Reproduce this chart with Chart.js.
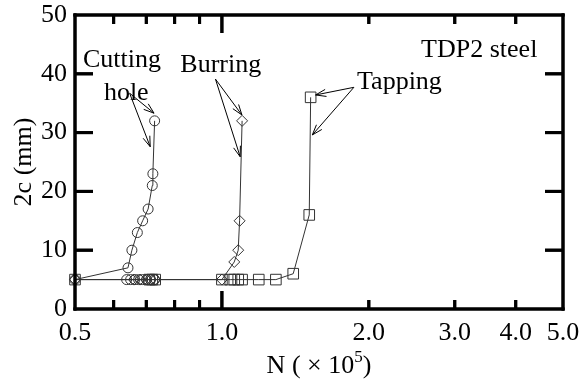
<!DOCTYPE html>
<html lang="en">
<head>
    <meta charset="UTF-8">
    <title>2c vs N - TDP2 steel</title>
    <script src="https://cdn.jsdelivr.net/npm/chart.js"></script>
    <style>
        html, body { margin: 0; padding: 0; background: #fff; }
        .chart-box { position: relative; width: 585px; height: 380px; }
    </style>
</head>
<body>
    <div class="chart-box">
        <canvas id="crackChart"></canvas>
    </div>

    <script>
        // values: N in 1e5 cycles, 2c in mm
        const cutX = [0.5, 0.642, 0.654, 0.671, 0.688, 0.706, 0.72, 0.722, 0.728];
        const cutY = [5, 7, 10, 13, 15, 17, 21, 23, 32];
        // cutting-hole points still at the notch size (no line)
        const cutFlatX = [0.638, 0.65, 0.663, 0.675, 0.688, 0.701, 0.714, 0.728];
        const cutFlatY = [5, 5, 5, 5, 5, 5, 5, 5];
        const burX = [0.5, 0.66, 0.68, 0.70, 0.715, 0.73, 1.0, 1.06, 1.08, 1.087, 1.1];
        const burY = [5, 5, 5, 5, 5, 5, 5, 8, 10, 15, 32];
        const tapX = [0.5, 0.71, 0.72, 0.73, 1.0, 1.04, 1.06, 1.08, 1.1, 1.19, 1.29, 1.4, 1.51, 1.52];
        const tapY = [5, 5, 5, 5, 5, 5, 5, 5, 5, 5, 5, 6, 16, 36];

        const xTicks = [0.5, 0.6, 0.7, 0.8, 0.9, 1, 2, 3, 4, 5];
        const xLabels = ['0.5', '', '', '', '', '1.0', '2.0', '3.0', '4.0', '5.0'];
        const yTicks = [0, 10, 20, 30, 40, 50];

        const serif = '"Liberation Serif", "DejaVu Serif", serif';
        const ink = '#333';

        // text labels and arrows, in data coordinates
        const notes = [
            { text: 'Cutting', x: 0.519, y: 41.2 },
            { text: 'hole', x: 0.573, y: 35.5 },
            { text: 'Burring', x: 0.822, y: 40.3 },
            { text: 'Tapping', x: 1.892, y: 37.4 },
            { text: 'TDP2 steel', x: 2.56, y: 42.9 }
        ];
        const arrows = [
            [0.647, 36.7, 0.726, 33.3], [0.647, 36.7, 0.713, 27.6],
            [0.970, 39.1, 1.099, 33.0], [0.970, 39.1, 1.090, 25.9],
            [1.864, 37.7, 1.556, 36.4], [1.864, 37.7, 1.532, 29.6]
        ];

        function drawArrow(g, x0, y0, x1, y1) {
            const a = Math.atan2(y1 - y0, x1 - x0), h = 11, w = 0.33;
            g.moveTo(x0, y0);
            g.lineTo(x1, y1);
            g.moveTo(x1 - h * Math.cos(a - w), y1 - h * Math.sin(a - w));
            g.lineTo(x1, y1);
            g.lineTo(x1 - h * Math.cos(a + w), y1 - h * Math.sin(a + w));
        }

        // solid bar used for the frame and the tick marks
        function bar(g, x0, y0, x1, y1) {
            const l = Math.min(x0, x1), t = Math.min(y0, y1);
            const w = Math.abs(x1 - x0), h = Math.abs(y1 - y0);
            g.fillRect(l, t, w, h);
            g.beginPath();
            g.moveTo(l + 0.01, t + 0.01);
            g.lineTo(l + w, t + 0.01);
            g.lineTo(l + w, t + h);
            g.lineTo(l + 0.01, t + h);
            g.closePath();
            g.fill();
        }

        const framePlugin = {
            id: 'frame',
            afterDraw(chart) {
                const g = chart.ctx;
                const a = chart.chartArea;
                const x = chart.scales.x, y = chart.scales.y;
                const L = Math.round(a.left), R = Math.round(a.right);
                const T = Math.round(a.top), B = Math.round(a.bottom);
                g.save();
                g.fillStyle = '#000';
                bar(g, L - 1.5, T - 1.5, L + 1.5, B + 1.5);
                bar(g, R - 1.5, T - 1.5, R + 1.5, B + 1.5);
                bar(g, L - 1.5, T - 1.5, R + 1.5, T + 1.5);
                bar(g, L - 1.5, B - 1.5, R + 1.5, B + 1.5);
                xTicks.slice(1, -1).forEach(v => {
                    const px = x.getPixelForValue(v);
                    const len = v === 1 ? 18 : 9;
                    bar(g, px - 1.5, B, px + 1.5, B - len);
                    bar(g, px - 1.5, T, px + 1.5, T + len);
                });
                yTicks.slice(1, -1).forEach(v => {
                    const py = y.getPixelForValue(v);
                    bar(g, L, py - 1.5, L + 18, py + 1.5);
                    bar(g, R - 18, py - 1.5, R, py + 1.5);
                });

                g.strokeStyle = '#000';
                g.lineWidth = 1;
                g.beginPath();
                arrows.forEach(r => drawArrow(g, x.getPixelForValue(r[0]), y.getPixelForValue(r[1]),
                    x.getPixelForValue(r[2]), y.getPixelForValue(r[3])));
                g.stroke();

                g.font = '26px ' + serif;
                g.textBaseline = 'alphabetic';
                g.textAlign = 'left';
                notes.forEach(n => g.fillText(n.text, x.getPixelForValue(n.x), y.getPixelForValue(n.y)));

                // x title with superscript exponent
                const cx = (a.left + a.right) / 2;
                const main = 'N ( \u00d7 10', sup = '5', end = ')';
                const w1 = g.measureText(main).width;
                g.font = '17px ' + serif;
                const w2 = g.measureText(sup).width;
                g.font = '26px ' + serif;
                const w3 = g.measureText(end).width;
                const tx = cx - (w1 + w2 + w3) / 2;
                const base = 373;
                g.fillText(main, tx, base);
                g.fillText(end, tx + w1 + w2, base);
                g.font = '17px ' + serif;
                g.fillText(sup, tx + w1, base - 11);

                // y title
                g.font = '26px ' + serif;
                g.translate(24, (a.top + a.bottom) / 2);
                g.rotate(-Math.PI / 2);
                g.textAlign = 'center';
                g.textBaseline = 'middle';
                g.fillText('2c (mm)', 0, 0);
                g.restore();
            }
        };

        const lineSet = (xs, ys, style, radius, line) => ({
            data: xs.map((v, i) => ({ x: v, y: ys[i] })),
            showLine: line,
            borderColor: ink,
            borderWidth: 1,
            pointStyle: style,
            pointRadius: radius,
            pointBorderColor: ink,
            pointBorderWidth: 1,
            pointBackgroundColor: 'rgba(0,0,0,0)',
            clip: false
        });

        const noPad = s => { s.paddingTop = 0; s.paddingBottom = 0; s.paddingLeft = 0; s.paddingRight = 0; };
        const tickFont = { family: serif, size: 26 };

        new Chart(document.getElementById('crackChart').getContext('2d'), {
            type: 'scatter',
            data: {
                datasets: [
                    lineSet(cutX, cutY, 'circle', 5, true),
                    lineSet(cutFlatX, cutFlatY, 'circle', 5, false),
                    lineSet(burX, burY, 'rectRot', 5.5, true),
                    lineSet(tapX, tapY, 'rect', 7.5, true)
                ]
            },
            plugins: [framePlugin],
            options: {
                responsive: true,
                maintainAspectRatio: false,
                animation: false,
                layout: { padding: { top: 15, right: 22, left: 0, bottom: 0 } },
                plugins: { legend: { display: false }, tooltip: { enabled: false } },
                scales: {
                    x: {
                        type: 'logarithmic',
                        min: 0.5,
                        max: 5,
                        grid: { display: false, drawTicks: false },
                        border: { display: false },
                        afterBuildTicks: s => { s.ticks = xTicks.map(v => ({ value: v })); },
                        afterFit: s => { s.height = 71; noPad(s); },
                        ticks: {
                            autoSkip: false,
                            maxRotation: 0,
                            padding: 9,
                            color: '#000',
                            font: tickFont,
                            callback: (v, i) => xLabels[i]
                        }
                    },
                    y: {
                        min: 0,
                        max: 50,
                        grid: { display: false, drawTicks: false },
                        border: { display: false },
                        afterBuildTicks: s => { s.ticks = yTicks.map(v => ({ value: v })); },
                        afterFit: s => { s.width = 75; noPad(s); },
                        ticks: {
                            padding: 8,
                            color: '#000',
                            font: tickFont
                        }
                    }
                }
            }
        });
    </script>
</body>
</html>
